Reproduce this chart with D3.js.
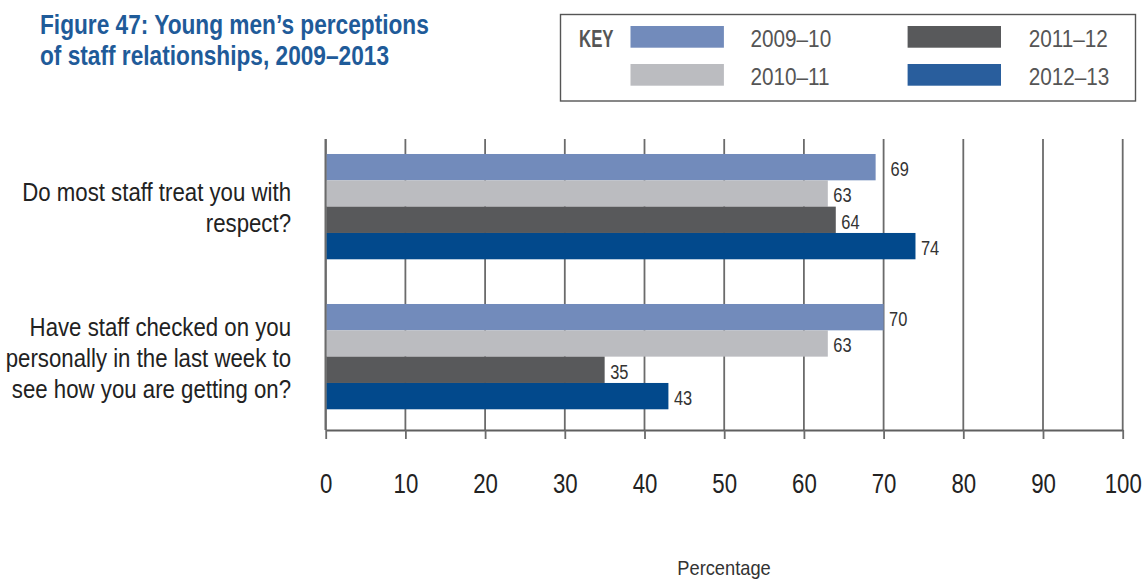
<!DOCTYPE html>
<html>
<head>
<meta charset="utf-8">
<script src="https://cdn.jsdelivr.net/npm/d3@7"></script>
<style>
  body { margin: 0; background: #fff; }
  svg { display: block; }
  text { font-family: "Liberation Sans", Arial, sans-serif; }
</style>
</head>
<body>
<svg id="chart" width="1145" height="581"></svg>
<script>
// Survey questions (one entry per line of the wrapped label)
const questions = [
  ["Do most staff treat you with", "respect?"],
  ["Have staff checked on you", "personally in the last week to", "see how you are getting on?"]
];
const seriesNames = ["2009–10", "2010–11", "2011–12", "2012–13"];
// Percentage answering yes, per question
const values2009 = [69, 70];
const values2010 = [63, 63];
const values2011 = [64, 35];
const values2012 = [74, 43];
const xTicks = [0, 10, 20, 30, 40, 50, 60, 70, 80, 90, 100];

const barColors = ["#728bbb", "#bbbcc0", "#58595b", "#02498c"];
const keyColors = ["#728bbb", "#bbbcc0", "#58595b", "#295e9d"];

const seriesValues = [values2009, values2010, values2011, values2012];
const qIndex = d3.range(questions.length);

const svg = d3.select("#chart");

// Condensed lettering: place a text at (px, py) and squeeze it horizontally
function narrowText(parent, px, py, sx) {
  return parent.append("text")
    .attr("transform", `translate(${px},${py}) scale(${sx},1)`);
}

// Title
const title = narrowText(svg, 40, 0, 0.825)
  .attr("fill", "#1f5b99")
  .attr("font-weight", "bold")
  .attr("font-size", 27.5);
title.append("tspan").attr("x", 0).attr("y", 34).text("Figure 47: Young men’s perceptions");
title.append("tspan").attr("x", 0).attr("y", 65).text("of staff relationships, 2009–2013");

// Scales
const x = d3.scaleLinear().domain([0, 100]).range([325.7, 1122.7]);
const y = d3.scaleBand().domain(qIndex).range([139, 430])
  .paddingInner(0.298).paddingOuter(0.119).align(0.42);
const ySeries = d3.scaleBand().domain(d3.range(seriesNames.length)).range([0, y.bandwidth()]);

const gridTop = 139, axisY = 430;

// Vertical grid lines
svg.append("g").selectAll("line").data(xTicks).join("line")
  .attr("x1", d => x(d)).attr("x2", d => x(d))
  .attr("y1", gridTop).attr("y2", axisY)
  .attr("stroke", "#6b6b6b").attr("stroke-width", d => d === 0 ? 2.4 : 1.8);

// Bottom axis
const axis = svg.append("g")
  .attr("transform", `translate(0,${axisY})`)
  .call(d3.axisBottom(x).tickValues(xTicks).tickSize(9).tickPadding(33).tickSizeOuter(0));
axis.attr("font-family", null).attr("font-size", null);
axis.select(".domain").attr("stroke", "#5f5f5f").attr("stroke-width", 2.2);
axis.selectAll(".tick line").attr("stroke", "#6b6b6b").attr("stroke-width", 1.8);
axis.selectAll(".tick text")
  .attr("font-size", 28.5).attr("fill", "#222")
  .attr("dy", 0).attr("y", 0)
  .attr("transform", "translate(0,63) scale(0.78,1)");

narrowText(svg, 724, 575, 0.87)
  .attr("text-anchor", "middle")
  .attr("font-size", 21).attr("fill", "#333").text("Percentage");

// Bars
const groups = svg.append("g").selectAll("g").data(qIndex).join("g")
  .attr("transform", q => `translate(0,${y(q)})`);

groups.selectAll("rect")
  .data(q => seriesValues.map((vals, s) => ({ s, v: vals[q] })))
  .join("rect")
  .attr("x", x(0) + 1)
  .attr("y", d => ySeries(d.s))
  .attr("width", d => x(d.v) - x(0) - 1)
  .attr("height", ySeries.bandwidth())
  .attr("fill", d => barColors[d.s]);

// Value labels, nudged past a grid line when they would sit on it
groups.selectAll("text.val")
  .data(q => seriesValues.map((vals, s) => ({ s, v: vals[q] })))
  .join("text")
  .attr("class", "val")
  .attr("transform", d => {
    let pos = x(d.v) + 5.5;
    xTicks.forEach(t => {
      const gx = x(t);
      if (gx > pos - 2 && gx < pos + 16) pos = gx + 7;
    });
    const py = ySeries(d.s) + ySeries.bandwidth() / 2 + 9;
    return `translate(${pos},${py}) scale(0.8,1)`;
  })
  .attr("font-size", 20.5).attr("fill", "#333")
  .text(d => d.v);

// Question labels
groups.each(function(q) {
  const lines = questions[q];
  const mid = y.bandwidth() / 2;
  const t = narrowText(d3.select(this), 291, 0, 0.855)
    .attr("text-anchor", "end").attr("font-size", 26).attr("fill", "#222");
  lines.forEach((line, i) => {
    t.append("tspan").attr("x", 0)
      .attr("y", mid + (i - (lines.length - 1) / 2) * 31 + 10)
      .text(line);
  });
});

// Key
svg.append("rect")
  .attr("x", 560.5).attr("y", 14.5).attr("width", 575).attr("height", 86.5)
  .attr("fill", "none").attr("stroke", "#555").attr("stroke-width", 1.4);
narrowText(svg, 579, 46.5, 0.7)
  .attr("font-weight", "bold")
  .attr("font-size", 24).attr("fill", "#555").text("KEY");

const keyCols = [630.5, 907.6], keyTextCols = [750.5, 1028.7], keyRows = [26, 64];
const keyItems = svg.append("g").selectAll("g").data(seriesNames).join("g")
  .attr("transform", (d, i) => `translate(0,${keyRows[i % 2]})`);
keyItems.append("rect")
  .attr("x", (d, i) => keyCols[Math.floor(i / 2)])
  .attr("width", 93.4).attr("height", 21.7)
  .attr("fill", (d, i) => keyColors[i]);
keyItems.append("text")
  .attr("transform", (d, i) => `translate(${keyTextCols[Math.floor(i / 2)]},21) scale(0.85,1)`)
  .attr("font-size", 24.4).attr("fill", "#555")
  .text(d => d);
</script>
</body>
</html>
